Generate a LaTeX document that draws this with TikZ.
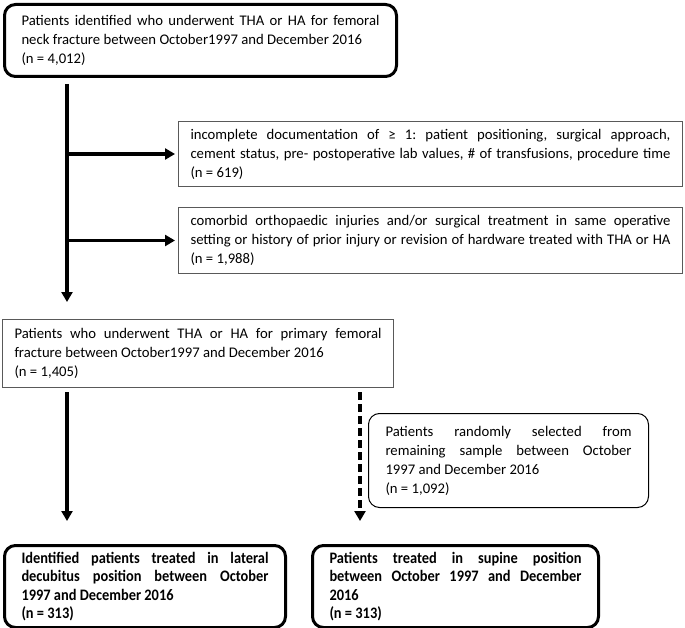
\documentclass[tikz,border=0pt]{standalone}
\usepackage{fontspec}
\setmainfont{Carlito}
\frenchspacing
\usetikzlibrary{arrows.meta}
\tikzset{
	MyFlow/.style={x=1pt, y=-1pt},
	MyText/.style={anchor=north west, align=justify, inner ysep=0pt, font=\fontsize{14.7}{19}\selectfont},
	MyBold/.style={font=\fontsize{16}{18.2}\selectfont\addfontfeature{FakeStretch=0.9}\bfseries},
	MyRound/.style={MyText, draw, line width=3pt, rounded corners=11pt},
	MyThin/.style={MyText, draw, line width=1pt, rounded corners=11pt},
	MyPlain/.style={MyText, draw=black!65, line width=1pt},
	MyArrow/.style={line width=3.4pt, -{Triangle[length=10pt,width=11pt]}}
}

\begin{document}
\begin{tikzpicture}[MyFlow]
		\useasboundingbox (0,0) rectangle (685,628);

		% Boxes
		\node[MyRound, text width=358pt, inner xsep=17pt, minimum height=72pt] (cohort) at (3,3)
			{Patients identified who underwent THA or HA for femoral\linebreak neck fracture between October1997 and December 2016\\(n = 4,012)};
		\node[MyPlain, text width=480pt, inner xsep=12pt, minimum height=65pt] (exclA) at (178,121)
			{incomplete documentation of ≥ 1: patient positioning, surgical approach,\linebreak cement status, pre- postoperative lab values, \# of transfusions, procedure time\linebreak (n = 619)};
		\node[MyPlain, text width=480pt, inner xsep=12pt, minimum height=66pt] (exclB) at (178,207)
			{comorbid orthopaedic injuries and/or surgical treatment in same operative\linebreak setting or history of prior injury or revision of hardware treated with THA or HA\linebreak (n = 1,988)};
		\node[MyPlain, text width=367pt, inner xsep=12pt, minimum height=68pt] (primary) at (2,319)
			{Patients who underwent THA or HA for primary femoral\linebreak fracture between October1997 and December 2016\\(n = 1,405)};
		\node[MyThin, text width=246pt, inner xsep=17pt, minimum height=94pt] (random) at (368,413)
			{Patients randomly selected from\linebreak remaining sample between October\linebreak 1997 and December 2016\\(n = 1,092)};
		\node[MyRound, MyBold, text width=247pt, inner xsep=17pt, minimum height=82pt] (lateral) at (3,544)
			{Identified patients treated in lateral\linebreak decubitus position between October\linebreak 1997 and December 2016\\(n = 313)};
		\node[MyRound, MyBold, text width=252pt, inner xsep=17pt, minimum height=82pt] (supine) at (311,544)
			{Patients treated in supine position\linebreak between October 1997 and December\linebreak 2016\\(n = 313)};

		% Connectors
		\coordinate (spine) at (67,0);
		\coordinate (split) at (360,0);
		\draw[MyArrow, shorten <=6pt, shorten >=17pt] (spine |- cohort.south) -- (spine |- primary.north);
		\draw[MyArrow, shorten >=3pt] (spine |- exclA.west) -- (exclA.west);
		\draw[MyArrow, shorten >=3pt] (spine |- exclB.west) -- (exclB.west);
		\draw[MyArrow, shorten <=4pt, shorten >=23pt] (spine |- primary.south) -- (spine |- lateral.north);
		\draw[MyArrow, dash pattern=on 8pt off 4pt, shorten <=4pt, shorten >=23pt] (split |- primary.south) -- (split |- supine.north);
\end{tikzpicture}
\end{document}
